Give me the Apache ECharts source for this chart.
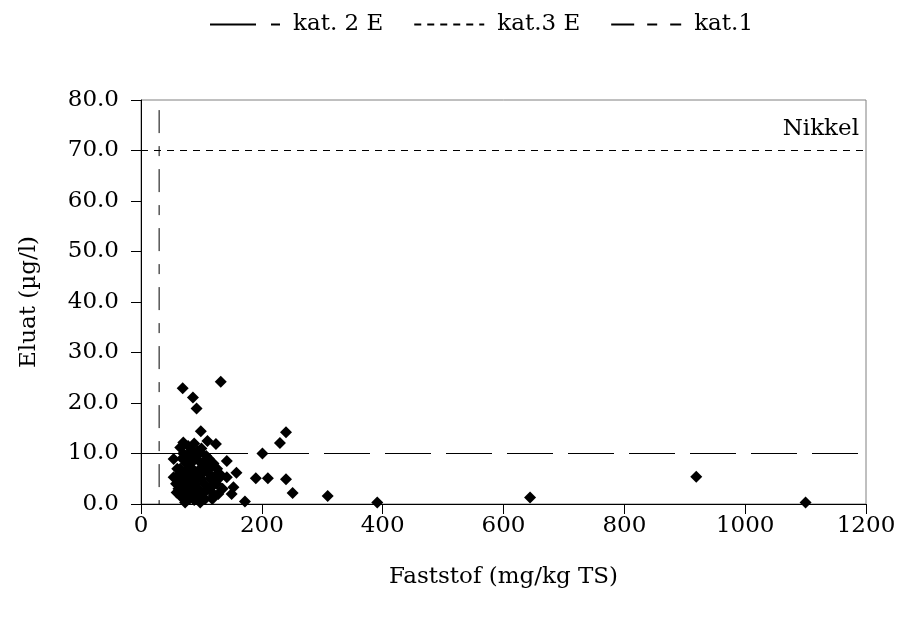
<!DOCTYPE html>
<html>
<head>
<meta charset="utf-8">
<script src="https://cdn.jsdelivr.net/npm/echarts@6/dist/echarts.min.js"></script>
<style>html,body{margin:0;padding:0;background:#fff}#c{width:909px;height:627px}</style>
</head>
<body>
<div id="c"></div>
<script>
// Data: Faststof (mg/kg TS) vs Eluat (µg/l) for Nikkel
const faststof = [69,132,86,92,99,240,230,201,70,65,110,124,54,98,89,109,142,158,54,65,131,142,153,150,172,70,73,98,120,59,190,210,240,251,309,391,644,919,1100,
  60,62,65,68,70,72,75,75,78,80,80,82,85,85,88,90,90,92,95,95,98,100,100,102,105,108,110,112,115,118,120,125,128,135,130,78,88,70,60,66,
  58,64,72,76,82,86,92,96,104,106,114,116,122,126,84,94,80,74,68,102,112,118,88,78,96];
const eluat = [22.9,24.2,21.1,18.9,14.4,14.2,12.1,10.0,12.2,11.2,12.5,11.9,8.9,10.2,8.9,7.2,8.5,6.2,5.3,5.3,5.3,5.3,3.3,2.0,0.5,2.3,0.3,0.3,1.6,2.3,5.1,5.1,4.9,2.2,1.6,0.3,1.3,5.4,0.3,
  5,3,7,9,5,2,8,4,6,1,10,3,7,5,2,4,9,6,1,3,7,5,11,2,4,9.5,3,6,5,1,8,4,2,3,6,11.5,12,10,7,1.5,
  4,6,3.5,9.5,8,2.5,3,8.5,6.5,1,7,2.5,5.5,7,10.5,10.5,4.5,6.5,3.5,8,9,3.5,0.8,2.5,5.5];
const kat2E_eluat = 10;   // horizontal limit
const kat3E_eluat = 70;   // horizontal limit
const kat1_faststof = 30; // vertical limit
const xRange = [0, 1200];
const yRange = [0, 80];
const kat1_top = 78;
const xTicks = [0,200,400,600,800,1000,1200];
const yTicks = [0,10,20,30,40,50,60,70,80];

const points = faststof.map((x, i) => [x, eluat[i]]);
const F = 'DejaVu Serif';
const FS = 23;
const chart = echarts.init(document.getElementById('c'), null, {renderer: 'canvas'});
chart.setOption({
  animation: false,
  backgroundColor: '#fff',
  color: ['#000'],
  title: {
    text: 'Nikkel', right: 45, top: 113,
    textStyle: {fontFamily: F, fontSize: FS, fontWeight: 'normal', color: '#000'}
  },
  legend: {
    data: ['kat. 2 E', 'kat.3 E', 'kat.1'],
    top: 8, left: 204,
    itemWidth: 70, itemHeight: 14, itemGap: 30,
    itemStyle: {opacity: 0},
    textStyle: {fontFamily: F, fontSize: FS, color: '#000', padding: [0, 0, 0, 8]}
  },
  grid: {left: 141, right: 43, top: 100, bottom: 123, show: true, borderColor: '#808080', borderWidth: 1},
  xAxis: {
    type: 'value', min: xRange[0], max: xRange[1], interval: 200,
    name: 'Faststof (mg/kg TS)', nameLocation: 'middle', nameGap: 62,
    nameTextStyle: {fontFamily: F, fontSize: FS, color: '#000'},
    axisLine: {show: true, onZero: false, lineStyle: {color: '#000', width: 1}},
    axisTick: {show: true, inside: false, length: 10, lineStyle: {color: '#000'}},
    axisLabel: {fontFamily: F, fontSize: FS, color: '#000', margin: 11,
      formatter: v => xTicks.includes(v) ? String(v) : ''},
    splitLine: {show: false}
  },
  yAxis: {
    type: 'value', min: yRange[0], max: yRange[1], interval: 10,
    name: 'Eluat (µg/l)', nameLocation: 'middle', nameGap: 100, nameRotate: 90,
    nameTextStyle: {fontFamily: F, fontSize: FS, color: '#000'},
    axisLine: {show: true, onZero: false, lineStyle: {color: '#000', width: 1}},
    axisTick: {show: true, inside: false, length: 10, lineStyle: {color: '#000'}},
    axisLabel: {fontFamily: F, fontSize: FS, color: '#000', margin: 22,
      formatter: v => yTicks.includes(v) ? v.toFixed(1) : ''},
    splitLine: {show: false}
  },
  series: [
    {
      name: 'kat. 2 E', type: 'line', symbol: 'none', silent: true,
      data: [[xRange[0], kat2E_eluat], [xRange[1], kat2E_eluat]],
      itemStyle: {color: '#000'},
      lineStyle: {color: '#000', width: 1, type: [46, 15]}, z: 1
    },
    {
      name: 'kat.3 E', type: 'line', symbol: 'none', silent: true,
      data: [[xRange[0], kat3E_eluat], [xRange[1], kat3E_eluat]],
      itemStyle: {color: '#000'},
      lineStyle: {color: '#000', width: 1, type: [7, 6]}, z: 1
    },
    {
      name: 'kat.1', type: 'line', symbol: 'none', silent: true,
      data: [[kat1_faststof, kat1_top], [kat1_faststof, yRange[0]]],
      itemStyle: {color: '#000'},
      lineStyle: {color: '#000', width: 1, type: [23, 13, 10, 13]}, z: 1
    },
    {
      name: 'data', type: 'scatter', symbol: 'diamond', symbolSize: 12,
      itemStyle: {color: '#000', opacity: 1}, data: points, z: 3
    }
  ]
});
</script>
</body>
</html>
